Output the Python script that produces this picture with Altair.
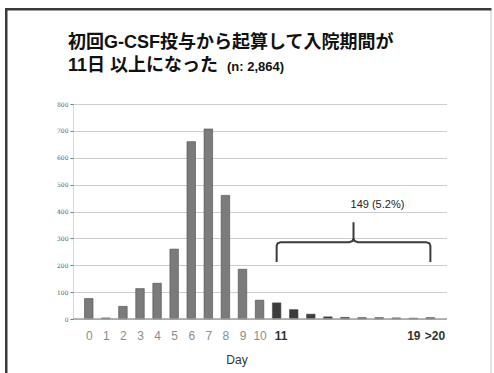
import altair as alt
import pandas as pd

# Length of stay after first G-CSF dose (days) and number of patients
days = ["0", "1", "2", "3", "4", "5", "6", "7", "8", "9", "10",
        "11", "12", "13", "14", "15", "16", "17", "18", "19", ">20"]
counts = [76, 4, 47, 113, 133, 260, 660, 707, 460, 185, 70,
          60, 35, 18, 8, 6, 5, 5, 4, 3, 5]
shown_ticks = [0, 1, 2, 3, 4, 5, 6, 7, 8, 9, 10, 11, 19, 20]
y_ticks = [0, 100, 200, 300, 400, 500, 600, 700, 800]
total_n = 2864
long_stay_from = 11

title_line1 = "初回G-CSF投与から起算して入院期間が"
title_line2 = "11日 以上になった"
n_text = f"(n: {total_n:,})"

W, H = 374, 215
FONT = "Liberation Sans, Arial, Noto Sans CJK JP"

df = pd.DataFrame({"idx": list(range(len(days))), "day": days, "count": counts})
df["group"] = ["long" if i >= long_stay_from else "short" for i in df["idx"]]

long_total = sum(counts[long_stay_from:])
brace_label = f"{long_total} ({long_total / total_n * 100:.1f}%)"

x_scale = alt.Scale(domain=[-0.63, 20.68], nice=False, zero=False)
y_scale = alt.Scale(domain=[0, 800], nice=False)

label_expr = "[" + ",".join(f"'{d}'" for d in days) + "][datum.value]"
is_long = f"datum.value >= {long_stay_from}"
nudged = f"datum.value == {long_stay_from} || datum.value == {len(days) - 1}"

# One axis definition per channel, shared by every layer so they merge cleanly
x_axis = alt.Axis(values=shown_ticks, labelExpr=label_expr, title=None,
                  grid=False, domain=False, ticks=False, labelOverlap=False,
                  labelFont=FONT, labelFontSize=12, labelPadding=11,
                  labelOffset={"condition": {"test": nudged, "value": 4}, "value": 0},
                  labelColor={"condition": {"test": is_long, "value": "#333333"},
                              "value": "#8c8c8c"},
                  labelFontWeight={"condition": {"test": is_long, "value": "bold"},
                                   "value": "normal"})
y_axis = alt.Axis(values=y_ticks, title=None, grid=True, labelOverlap=False,
                  gridColor="#9a9a9a", gridDash=[1, 1], gridWidth=1,
                  domain=True, domainColor="#b0b0b0", domainDash=[1, 1],
                  tickSize=3, tickColor="#777777",
                  labelFont="DejaVu Serif", labelFontSize=6,
                  labelColor="#555555", labelPadding=2)

bars = alt.Chart(df).mark_bar(size=8.5, stroke="#4a4a4a", strokeWidth=0.6).encode(
    x=alt.X("idx:Q", scale=x_scale, axis=x_axis),
    y=alt.Y("count:Q", scale=y_scale, axis=y_axis),
    color=alt.Color("group:N", scale=alt.Scale(domain=["short", "long"],
                                               range=["#7b7b7b", "#3c3c3c"]),
                    legend=None),
)

floor = alt.Chart(pd.DataFrame({"y": [0]})).mark_rule(color="#a0a0a0", strokeWidth=1.5).encode(
    y=alt.Y("y:Q", scale=y_scale, axis=y_axis), x=alt.value(0), x2=alt.value(W)
)

# Curly brace spanning the long-stay bars
b_left, b_right = long_stay_from, len(days) - 1
b_mid = (b_left + b_right) / 2
b_end, b_bar, b_tip = 212, 286, 360
brace_x = [b_left, b_left, b_left + 0.06, b_left + 0.25, b_mid - 0.25, b_mid - 0.06, b_mid,
           b_mid,
           b_mid, b_mid + 0.06, b_mid + 0.25, b_right - 0.25, b_right - 0.06, b_right, b_right]
brace_y = [b_end, b_bar - 14, b_bar - 4, b_bar, b_bar, b_bar + 4, b_bar + 14,
           b_tip,
           b_bar + 14, b_bar + 4, b_bar, b_bar, b_bar - 4, b_bar - 14, b_end]
brace_df = pd.DataFrame({"x": brace_x, "y": brace_y, "o": list(range(len(brace_x)))})
brace = alt.Chart(brace_df).mark_line(color="#3a3a3a", strokeWidth=2).encode(
    x=alt.X("x:Q", scale=x_scale, axis=x_axis),
    y=alt.Y("y:Q", scale=y_scale, axis=y_axis),
    order="o:Q",
)

brace_text = alt.Chart(pd.DataFrame({"x": [16.9], "y": [424], "t": [brace_label]})).mark_text(
    font=FONT, fontSize=11, color="#222222"
).encode(
    x=alt.X("x:Q", scale=x_scale, axis=x_axis),
    y=alt.Y("y:Q", scale=y_scale, axis=y_axis),
    text="t:N",
)


def text_layer(txt, x, y, size, weight="bold", color="#111111", align="left", base="alphabetic"):
    return alt.Chart(pd.DataFrame({"t": [txt]})).mark_text(
        font=FONT, fontSize=size, fontWeight=weight, color=color, align=align, baseline=base
    ).encode(text="t:N", x=alt.value(x), y=alt.value(y))


t1 = text_layer(title_line1, -5, -56, 18)
t2 = text_layer(title_line2, -5, -33, 18)
t3 = text_layer(n_text, 154, -33, 13)
x_title = text_layer("Day", 164, 256, 12, weight="normal", color="#333333", align="center", base="middle")


def frame_piece(name, x, x2, y, y2, color):
    return alt.Chart(pd.DataFrame({name: [1]})).mark_rect(color=color).encode(
        x=alt.value(x), x2=alt.value(x2), y=alt.value(y), y2=alt.value(y2))


# Slide frame: dark left and top edges (top drawn in short segments), faint right edge
frame_left = frame_piece("fl", -68, -65.5, -96, 280, "#3a3a3a")
frame_right = frame_piece("fr", 417.5, 418.5, -94, 280, "#c8c8c8")
frame_top_a = frame_piece("ta", -68, 60, -96, -93.5, "#3a3a3a")
frame_top_b = frame_piece("tb", 60, 190, -96, -93.5, "#3a3a3a")
frame_top_c = frame_piece("tc", 190, 310, -96, -93.5, "#3a3a3a")
frame_top_d = frame_piece("td", 310, 418.5, -96, -93.5, "#3a3a3a")

chart = alt.layer(
    frame_left, frame_right, frame_top_a, frame_top_b, frame_top_c, frame_top_d,
    bars, floor, brace, brace_text, t1, t2, t3, x_title
).properties(
    width=W, height=H,
    autosize=alt.AutoSizeParams(type="none"),
    padding={"left": 73, "top": 104, "right": 47, "bottom": 54},
    background="white",
).configure_view(stroke=None)

chart.save("out.html", embed_options={"renderer": "svg", "actions": False})
